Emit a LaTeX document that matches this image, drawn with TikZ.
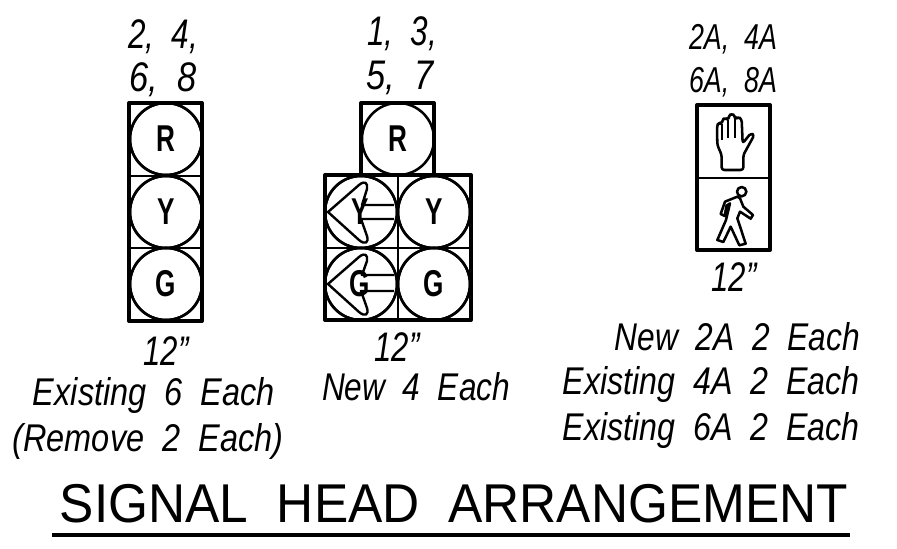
\documentclass[tikz,border=0pt]{standalone}
\usepackage{graphicx}
\usepackage{fontspec}
\setmainfont{Liberation Sans}
\newlength\pxu
\setlength\pxu{0.75pt}
\newcommand{\fitw}[2]{\resizebox{#1\pxu}{\height}{#2}}
\newcommand{\narrow}[1]{\raisebox{-1.5pt}{\scalebox{0.7}[1]{\bfseries #1}}}
\tikzset{
  housing/.style={draw=black,line width=3pt,line join=round},
  grid line/.style={draw=black,line width=1.2pt},
  lamp/.style={circle,draw=black,line width=1.9pt,minimum size=54pt,inner sep=0pt,fill=white,
    font=\fontsize{28}{28}\selectfont},
  arrow shape/.style={draw=black,line width=1.8pt,line join=round},
  pic line/.style={draw=black,line width=1.9pt,line join=round},
  lbl/.style={inner sep=0pt,anchor=base,font=\fontsize{31}{32}\selectfont\itshape},
  lblr/.style={lbl,anchor=base east,font=\fontsize{29}{30}\selectfont\itshape},
  text lbl/.style={lbl,font=\fontsize{29}{30}\selectfont\itshape},
  small lbl/.style={lbl,font=\fontsize{27}{30}\selectfont\itshape},
  cell letter/.style={inner sep=0pt,font=\fontsize{28}{28}\selectfont}
}
\begin{document}
\begin{tikzpicture}[x=0.75pt,y=-0.75pt]
\useasboundingbox (0,0) rectangle (897,549);
\fill[white] (0,0) rectangle (897,549);

% ---- left head
\node[lamp] (l1) at (166,139) {\narrow{R}};
\node[lamp] (l2) at (166,212) {\narrow{Y}};
\node[lamp] (l3) at (166,284) {\narrow{G}};
\draw[grid line] (129,176) -- (202,176) (129,248) -- (202,248);
\draw[housing] (129,103) rectangle (202,321);
\node[lamp,fill=none] at (l2) {};
\node[lamp,fill=none] at (l1) {};
\node[lamp,fill=none] at (l3) {};

% ---- middle head
\node[lamp] (m0) at (398,139) {\narrow{R}};
\node[lamp] (m1) at (361,212) {};
\node[lamp] (m2) at (434,212) {\narrow{Y}};
\node[lamp] (m3) at (361,284) {};
\node[lamp] (m4) at (434,284) {\narrow{G}};
\draw[grid line] (325,248) -- (471,248) (398,175) -- (398,320);
\draw[housing] (361,175) -- (361,103) -- (434,103) -- (434,175);
\draw[housing] (325,175) rectangle (471,320);
\foreach \n in {m1,m2,m3,m4}{\node[lamp,fill=none] at (\n) {};}
% arrows
\draw[arrow shape] (394,205) -- (362,205) -- (367,189) .. controls (368,183) and (365,180) .. (359,185)
  -- (328,212) -- (359,240) .. controls (365,245) and (369,243) .. (367,236) -- (361,219) -- (394,219);
\draw[arrow shape] (394,275) -- (362,275) -- (367,261) .. controls (368,255) and (365,252) .. (359,257)
  -- (328,284) -- (359,312) .. controls (365,317) and (369,315) .. (367,308) -- (361,291) -- (394,291);
\node[cell letter] (my) at (360,212) {\narrow{Y}};
\node[cell letter] (mg) at (360,284) {\narrow{G}};

% ---- pedestrian head
\draw[grid line] (697,178) -- (770,178);
\draw[housing] (697,105) rectangle (770,250);
\begin{scope}[shift={(680,90)},x=0.25pt,y=-0.25pt]
  % hand
  \draw[pic line,rounded corners=2pt]
    (125,240) -- (190,240) -- (190,195) -- (223,135) -- (212,130) -- (188,160)
    -- (185,88) -- (175,80) -- (166,88) -- (165,78) -- (155,70) -- (146,78) -- (145,90)
    -- (135,83) -- (127,90) -- (125,102) -- (116,98) -- (111,108) -- (112,165) -- (125,195) -- cycle;
  \draw[draw=black,line width=1.4pt] (125,102) -- (125,150) (145,90) -- (145,145) (165,88) -- (165,145);
  % walker
  \draw[pic line] (185,305) circle (14);
  \draw[pic line]
    (172,320) -- (135,335) -- (122,372) -- (134,378) -- (140,347) -- (150,340)
    -- (138,390) -- (112,450) -- (130,456) -- (152,410) -- (178,466) -- (197,461)
    -- (172,385) -- (180,365) -- (212,386) -- (219,375) -- (190,350) -- (180,325) -- cycle;
  \fill[black] (136,348) -- (148,340) -- (140,378) -- (132,376) -- cycle;
\end{scope}

% ---- labels
\node[lbl] (a1) at (163,49) {\fitw{70}{2,\ \ 4,}};
\node[lbl] (a2) at (163,92) {\fitw{67}{6,\ \ 8}};
\node[lbl] (b1) at (402,46) {\fitw{70}{1,\ \ 3,}};
\node[lbl] (b2) at (400,90) {\fitw{67}{5,\ \ 7}};
\node[small lbl] (c1) at (733,50) {\fitw{88}{2A,\ \ 4A}};
\node[small lbl] (c2) at (733,93) {\fitw{88}{6A,\ \ 8A}};
\node[lbl] (d1) at (166,366) {\fitw{45}{12"}};
\node[lbl] (d2) at (397,362) {\fitw{45}{12"}};
\node[lbl] (d3) at (734,292) {\fitw{45}{12"}};
\node[text lbl] (e1) at (154,405) {\fitw{242}{Existing\ \ 6\ \ Each}};
\node[text lbl] (e2) at (148,451) {\fitw{271}{(Remove\ \ 2\ \ Each)}};
\node[text lbl] (e3) at (416,400) {\fitw{188}{New\ \ 4\ \ Each}};
\node[lblr] (f1) at (860,350) {\fitw{245}{New\ \ 2A\ \ 2\ \ Each}};
\node[lblr] (f2) at (860,394) {\fitw{297}{Existing\ \ 4A\ \ 2\ \ Each}};
\node[lblr] (f3) at (860,440) {\fitw{297}{Existing\ \ 6A\ \ 2\ \ Each}};
\node[inner sep=0pt,anchor=base,font=\fontsize{41}{41}\selectfont] (t) at (454,522)
  {\fitw{788}{SIGNAL\ \ HEAD\ \ ARRANGEMENT}};
\draw[draw=black,line width=2.6pt] (52,535) -- (850,535);
\end{tikzpicture}
\end{document}
